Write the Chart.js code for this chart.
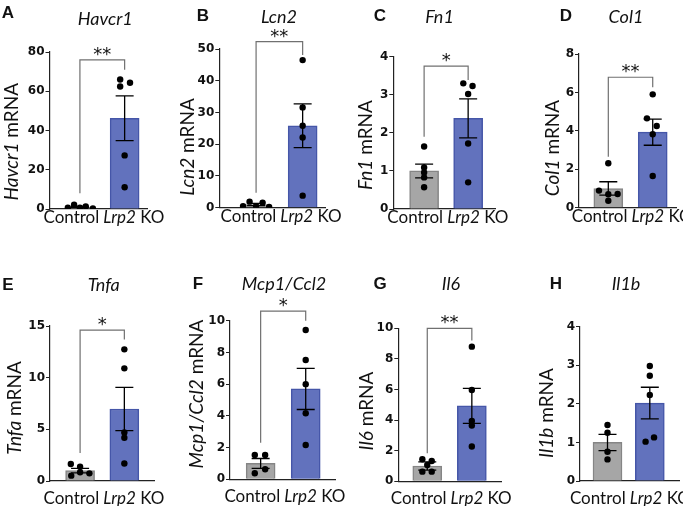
<!DOCTYPE html>
<html>
<head>
<meta charset="utf-8">
<script src="https://cdn.jsdelivr.net/npm/chart.js@4.4.1/dist/chart.umd.min.js"></script>
<style>
  body { margin: 0; background: #fff; }
  #wrap { position: relative; width: 683px; height: 506px; overflow: hidden; }
  #wrap canvas { position: absolute; left: 0; top: 0; }
</style>
</head>
<body>
<div id="wrap"></div>
<script>
// ---- data ----
const panelLetters = ["A", "B", "C", "D", "E", "F", "G", "H"];
const genes = ["Havcr1", "Lcn2", "Fn1", "Col1", "Tnfa", "Mcp1/Ccl2", "Il6", "Il1b"];
const groups = ["Control", "Lrp2 KO"];

const controlPoints = [
    [0.6, 2.2, 0.7, 1.3, 0.3],
    [0.5, 1.9, 0.5, 1.6, 0.2],
    [1.64, 1.09, 0.96, 0.83, 0.57],
    [2.31, 0.89, 0.70, 0.71, 0.36],
    [1.65, 1.38, 0.74, 0.52, 0.84],
    [1.53, 1.53, 0.38, 0.63],
    [1.44, 1.33, 1.07, 0.63, 0.63],
    [1.45, 1.25, 0.76, 0.56]
];
const koPoints = [
    [66.0, 62.4, 64.3, 27.3, 11.1],
    [46.5, 31.6, 25.8, 22.1, 3.8],
    [3.30, 3.23, 3.02, 1.72, 0.70],
    [5.9, 4.65, 4.25, 3.82, 1.65],
    [12.74, 10.9, 4.7, 4.19, 1.7],
    [9.41, 7.52, 6.0, 4.16, 2.16],
    [8.8, 5.97, 3.94, 3.64, 2.27],
    [2.98, 2.73, 2.23, 1.02, 1.13]
];
// horizontal scatter of the dots, in group widths
const controlJitter = [
    [-0.27, -0.13, 0, 0.13, 0.29],
    [-0.28, -0.14, 0, 0.14, 0.28],
    [0, 0, 0, 0, 0],
    [0, -0.21, 0, 0.21, 0],
    [-0.21, 0, 0.21, -0.2, 0],
    [-0.13, 0.1, -0.13, 0.1],
    [-0.11, 0.1, 0, -0.11, 0.1],
    [0, 0, 0, 0]
];
const koJitter = [
    [-0.1, -0.1, 0.12, 0, 0],
    [0, 0, 0, 0, 0],
    [-0.11, 0.1, 0, 0, 0],
    [0, -0.13, 0.09, 0, 0],
    [0, 0, 0, 0, 0],
    [0, 0, 0, 0, 0],
    [0, 0, 0, 0, 0],
    [0, 0, 0, -0.1, 0.1]
];
const controlMeans = [1.0, 1.0, 1.0, 1.0, 1.0, 1.0, 1.0, 1.0];
const koMeans = [46.2, 25.8, 2.38, 3.93, 6.97, 5.7, 4.93, 2.02];
const controlSems = [0.35, 0.35, 0.18, 0.35, 0.22, 0.31, 0.27, 0.21];
const koSems = [11.4, 6.9, 0.51, 0.68, 2.1, 1.3, 1.15, 0.41];

const yMaxes = [80, 50, 4, 8, 15, 10, 10, 4];
const ySteps = [20, 10, 1, 2, 5, 2, 2, 1];

const stars = ["**", "**", "*", "**", "*", "*", "**", ""];
const bracketTop = [76, 52.3, 3.75, 6.79, 14.6, 10.6, 10.0, null];
const bracketLeftEnd = [8, 4.7, 1.9, 2.65, 2.7, 2.3, 1.83, null];
const bracketRightEnd = [71, 48.1, 3.39, 6.27, 13.7, 10.0, 9.2, null];

// ---- layout (pixels on the 683x506 page) ----
const frames = [
    { axisX: 49.5, yTop: 52, yZero: 209, xEnd: 147, xMin: -0.68, xMax: 1.5 },
    { axisX: 219.3, yTop: 49, yZero: 207.7, xEnd: 325, xMin: -0.79, xMax: 1.48 },
    { axisX: 393.3, yTop: 56.7, yZero: 209, xEnd: 495, xMin: -0.70, xMax: 1.61 },
    { axisX: 579, yTop: 54, yZero: 207.7, xEnd: 676.7, xMin: -0.66, xMax: 1.54 },
    { axisX: 50, yTop: 326, yZero: 481, xEnd: 154, xMin: -0.68, xMax: 1.67 },
    { axisX: 230, yTop: 320.7, yZero: 479.3, xEnd: 335, xMin: -0.68, xMax: 1.65 },
    { axisX: 398.3, yTop: 328.3, yZero: 481.3, xEnd: 501.7, xMin: -0.65, xMax: 1.67 },
    { axisX: 580, yTop: 326.7, yZero: 481, xEnd: 683, xMin: -0.65, xMax: 1.69 }
];
const letterPos = [[8, 12], [203, 15], [380, 15], [566, 15], [8, 284], [198, 283], [380, 283], [556, 283]];
const titlePos = [[105.3, 18.3], [279, 16], [439.5, 16], [626, 16], [103.7, 284], [284, 283], [451, 283], [626, 283]];
const yLabelPos = [[18.3, 141.7], [194, 147], [371.7, 145], [559, 148], [20.7, 408], [203.3, 394], [373.3, 411], [552.7, 413]];

const W = 683, H = 506;
const greyFill = "#a6a6a6", greyLine = "#858585";
const blueFill = "#6272bd", blueLine = "#4556a8";
const sans = "Lato";

function drawRuns(ctx, runs, x, y, size, align) {
    let total = 0;
    runs.forEach(r => {
        ctx.font = (r.italic ? "italic " : "") + size + "px " + sans;
        r.w = ctx.measureText(r.t).width;
        total += r.w;
    });
    let cx = align === "center" ? x - total / 2 : align === "right" ? x - total : x;
    ctx.textAlign = "left";
    runs.forEach(r => {
        ctx.font = (r.italic ? "italic " : "") + size + "px " + sans;
        ctx.fillText(r.t, cx, y);
        cx += r.w;
    });
}

function panelPlugin(i) {
    return {
        id: "panel" + i,
        afterDatasetsDraw(chart) {
            const ctx = chart.ctx;
            const xs = chart.scales.x, ys = chart.scales.y;
            const means = [controlMeans[i], koMeans[i]];
            const sems = [controlSems[i], koSems[i]];

            // error bars (mean +/- SEM)
            ctx.save();
            ctx.strokeStyle = "#000";
            ctx.lineWidth = 1.3;
            for (let g = 0; g < 2; g++) {
                const px = xs.getPixelForValue(g);
                const top = ys.getPixelForValue(means[g] + sems[g]);
                const bot = ys.getPixelForValue(Math.max(0, means[g] - sems[g]));
                ctx.beginPath();
                ctx.moveTo(px, top); ctx.lineTo(px, bot);
                ctx.moveTo(px - 9, top); ctx.lineTo(px + 9, top);
                ctx.moveTo(px - 9, bot); ctx.lineTo(px + 9, bot);
                ctx.stroke();
            }

            // significance bracket
            if (bracketTop[i] !== null) {
                const x0 = xs.getPixelForValue(0), x1 = xs.getPixelForValue(1);
                const yb = ys.getPixelForValue(bracketTop[i]);
                ctx.strokeStyle = "#707070";
                ctx.lineWidth = 1.2;
                ctx.beginPath();
                ctx.moveTo(x0, ys.getPixelForValue(bracketLeftEnd[i]));
                ctx.lineTo(x0, yb);
                ctx.lineTo(x1, yb);
                ctx.lineTo(x1, ys.getPixelForValue(bracketRightEnd[i]));
                ctx.stroke();
                ctx.fillStyle = "#111";
                ctx.font = "18px 'DejaVu Sans'";
                ctx.textAlign = "center";
                ctx.textBaseline = "alphabetic";
                ctx.fillText(stars[i], (x0 + x1) / 2, yb);
            }
            ctx.restore();
        },
        afterDraw(chart) {
            const ctx = chart.ctx;
            const xs = chart.scales.x;
            const f = frames[i];
            ctx.save();
            ctx.fillStyle = "#111";
            ctx.textBaseline = "alphabetic";

            // panel letter
            ctx.font = "bold 17px 'Liberation Sans'";
            ctx.textAlign = "center";
            ctx.fillText(panelLetters[i], letterPos[i][0], letterPos[i][1] + 6);

            // title
            drawRuns(ctx, [{ t: genes[i], italic: true }], titlePos[i][0], titlePos[i][1] + 6.5, 18, "center");

            // group labels
            const mid = (xs.getPixelForValue(0) + xs.getPixelForValue(1)) / 2;
            const base = f.yZero + (i < 4 ? 14 : 23);
            drawRuns(ctx, [{ t: groups[0], italic: false }], mid - 3, base, 17, "right");
            const ko = groups[1].split(" ");
            drawRuns(ctx, [{ t: ko[0], italic: true }, { t: " " + ko[1], italic: false }], mid + 1, base, 17, "left");

            // y axis title
            ctx.translate(yLabelPos[i][0], yLabelPos[i][1]);
            ctx.rotate(-Math.PI / 2);
            drawRuns(ctx, [{ t: genes[i], italic: true }, { t: " mRNA", italic: false }], 0, 0, 19, "center");
            ctx.restore();
        }
    };
}

const wrap = document.getElementById("wrap");

genes.forEach((gene, i) => {
    const f = frames[i];
    const canvas = document.createElement("canvas");
    canvas.width = W;
    canvas.height = H;
    wrap.appendChild(canvas);

    const dots = [];
    controlPoints[i].forEach((v, k) => dots.push({ x: 0 + controlJitter[i][k], y: v }));
    koPoints[i].forEach((v, k) => dots.push({ x: 1 + koJitter[i][k], y: v }));

    new Chart(canvas, {
        type: "bar",
        data: {
            datasets: [
                {
                    type: "scatter",
                    data: dots,
                    pointRadius: 3.2,
                    pointBackgroundColor: "#000",
                    pointBorderWidth: 0,
                    order: 0
                },
                {
                    type: "bar",
                    data: [
                        { x: 0, y: controlMeans[i] },
                        { x: 1, y: koMeans[i] }
                    ],
                    backgroundColor: [greyFill, blueFill],
                    borderColor: [greyLine, blueLine],
                    borderWidth: 1.5,
                    barThickness: 29,
                    order: 1
                }
            ]
        },
        options: {
            responsive: false,
            animation: false,
            events: [],
            layout: {
                padding: {
                    left: f.axisX - 30,
                    right: W - f.xEnd,
                    top: f.yTop,
                    bottom: H - f.yZero
                }
            },
            plugins: {
                legend: { display: false },
                tooltip: { enabled: false }
            },
            scales: {
                x: {
                    type: "linear",
                    min: f.xMin,
                    max: f.xMax,
                    offset: false,
                    bounds: "data",
                    ticks: { display: false },
                    grid: { display: false, offset: false },
                    border: { color: "#222", width: 1.2 },
                    afterFit: s => { s.height = 0; }
                },
                y: {
                    min: 0,
                    max: yMaxes[i],
                    ticks: {
                        stepSize: ySteps[i],
                        color: "#111",
                        padding: 1,
                        font: { family: "'DejaVu Sans'", weight: "bold", size: 12 }
                    },
                    grid: {
                        drawOnChartArea: false,
                        drawTicks: true,
                        tickLength: 4,
                        color: "#222"
                    },
                    border: { color: "#222", width: 1.2 },
                    afterFit: s => { s.width = 30; }
                }
            }
        },
        plugins: [panelPlugin(i)]
    });
});
</script>
</body>
</html>
